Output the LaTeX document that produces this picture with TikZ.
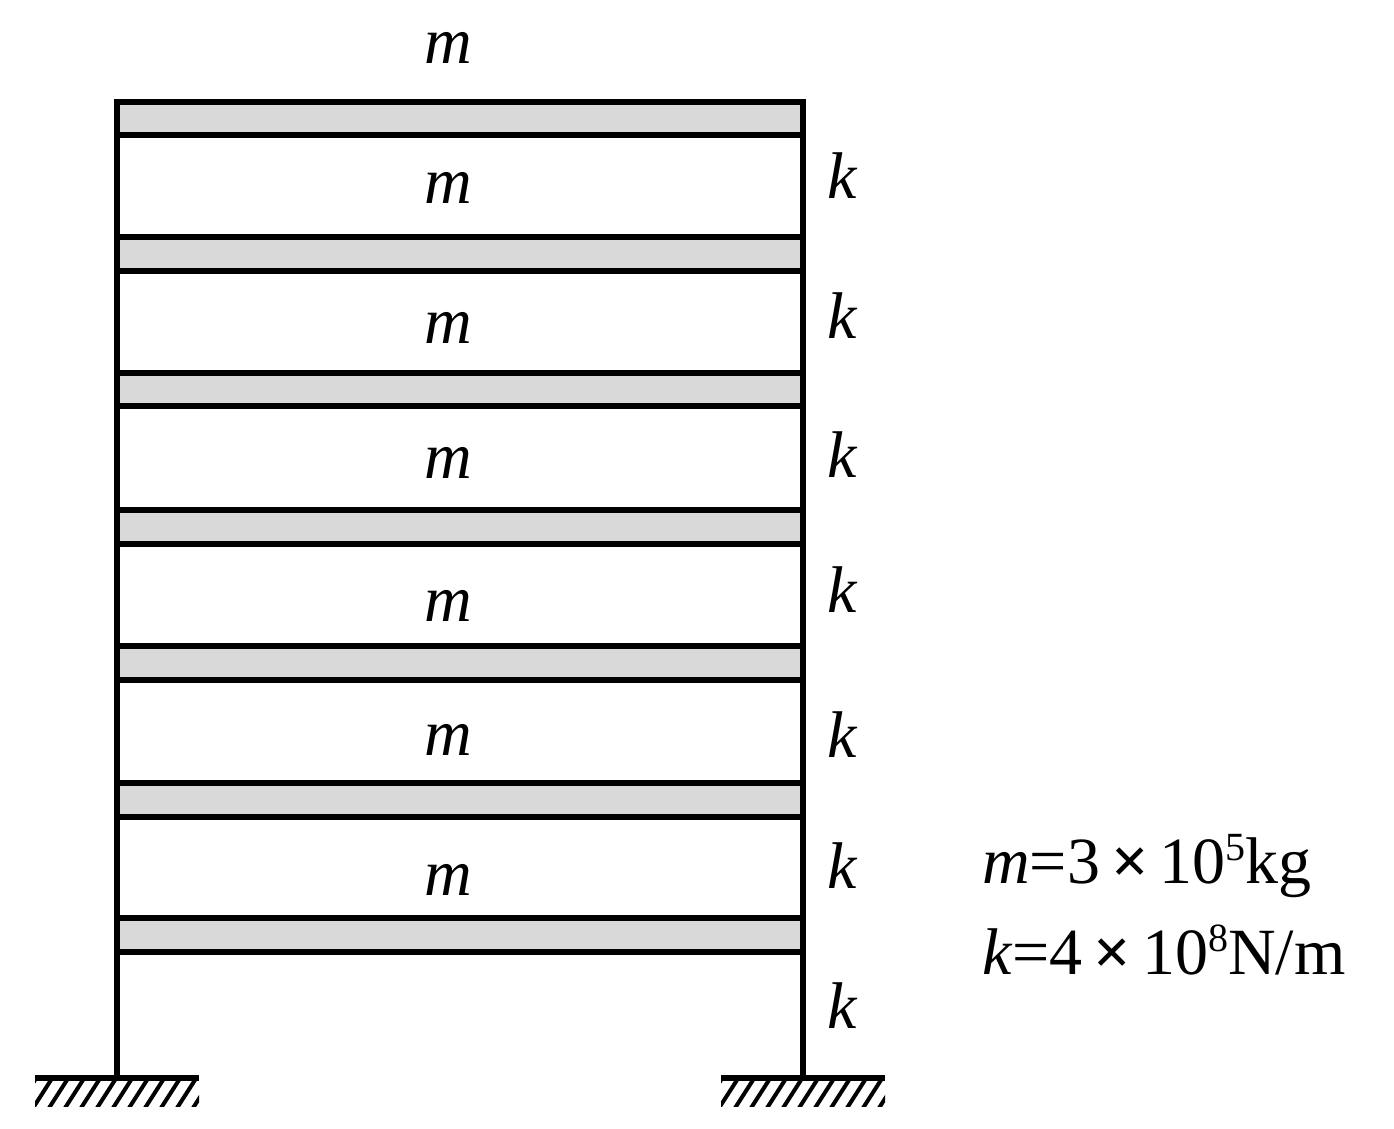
\documentclass[tikz,border=0pt]{standalone}
\usepackage{fontspec}
\setmainfont{Liberation Serif}
\begin{document}
\begin{tikzpicture}[x=1pt,y=-1pt,
  lw/.style={line width=6pt},
  slab/.style={lw,fill=gray!30},
  lab/.style={font=\fontsize{66}{70}\selectfont\itshape,inner sep=0},
  info/.style={font=\fontsize{66}{72}\selectfont,inner sep=0,anchor=west}]
\useasboundingbox (0,0) rectangle (1394,1128);
\foreach \a/\b in {102/135,237/271,373/406,510/544,646/680,783/817,918/952}
  \draw[slab] (117,\a) rectangle (803,\b);
\coordinate (gl) at (117,1078);
\coordinate (gr) at (803,1078);
\draw[lw] (117,102) -- (gl);
\draw[lw] (803,102) -- (gr);
\foreach \x in {117,803}{
  \draw[lw] (\x-82,1078) -- (\x+82,1078);
  \begin{scope}
  \clip (\x-82,1081) rectangle (\x+82,1106);
  \foreach \i in {-100,-84,...,100}
    \draw[line width=4pt] (\x+\i,1108) -- (\x+\i+18,1080);
  \end{scope}}
\foreach \y [count=\n] in {48,188,328,463,606,740,880}
  \node[lab] (m\n) at (448,\y) {m};
\foreach \y [count=\n] in {176,316,455,590,735,866,1006}
  \node[lab] (k\n) at (842,\y) {k};
\node[info] (t1) at (982,866) {\textit{m}=3\,{\bfseries×}\,10\raisebox{0.35em}{\fontsize{40}{42}\selectfont 5}kg};
\node[info] (t2) at (982,950) {\textit{k}=4\,{\bfseries×}\,10\raisebox{0.35em}{\fontsize{40}{42}\selectfont 8}N/m};
\end{tikzpicture}
\end{document}
